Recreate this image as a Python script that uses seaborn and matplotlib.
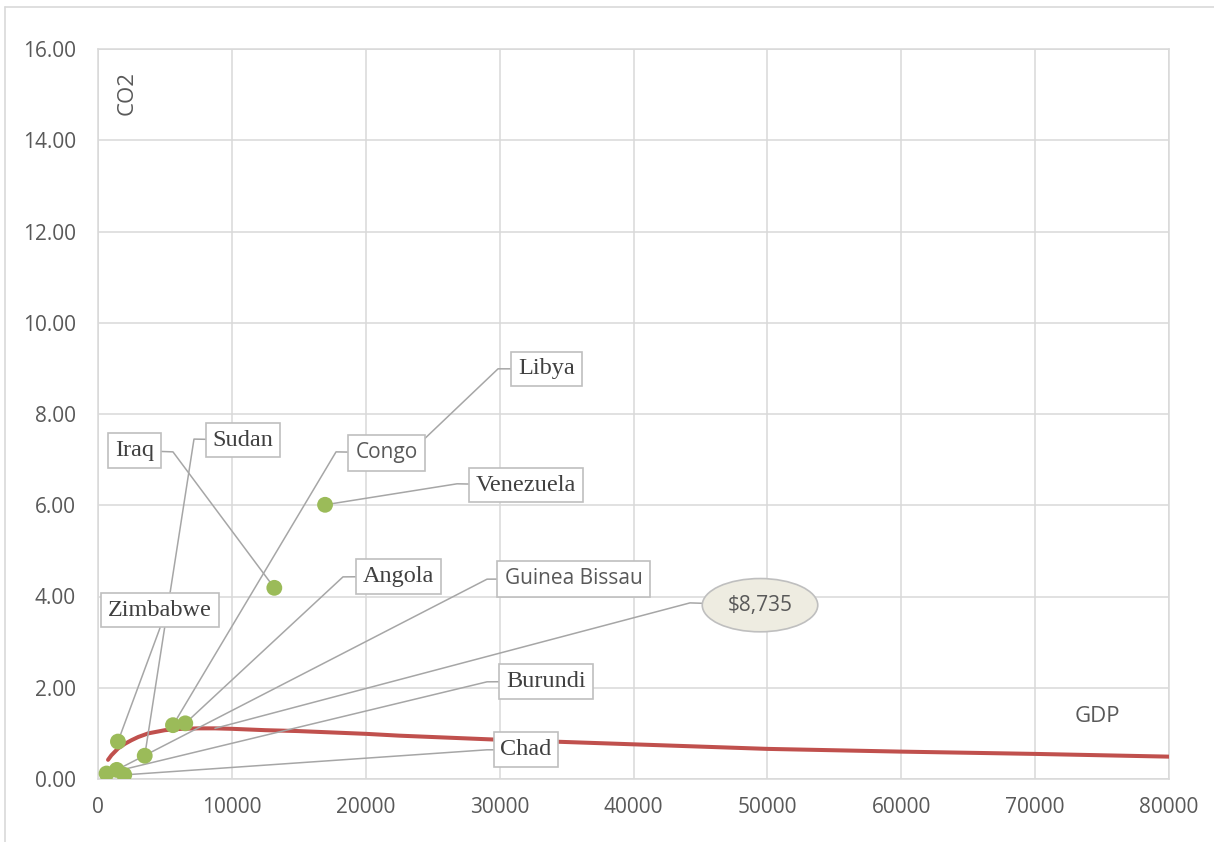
import matplotlib
matplotlib.use("Agg")
import matplotlib.pyplot as plt
from matplotlib.lines import Line2D
import seaborn as sns
import pandas as pd

# ---------------- data ----------------
countries = ["Iraq", "Venezuela", "Libya", "Congo", "Angola",
             "Zimbabwe", "Sudan", "Burundi", "Guinea Bissau", "Chad"]
gdp = [13170, 16960, 22900, 5600, 6520, 1490, 3490, 640, 1400, 1960]
co2 = [4.19, 6.01, 7.04, 1.18, 1.22, 0.82, 0.51, 0.12, 0.20, 0.09]

curve_gdp = [750, 1000, 1500, 2000, 2500, 3000, 3750, 5000, 6250, 7500, 8735,
             10000, 12500, 15000, 17500, 20000, 22500, 30000, 40000, 50000,
             60000, 70000, 80000]
curve_co2 = [0.42, 0.52, 0.67, 0.77, 0.85, 0.92, 1.00, 1.07, 1.10, 1.11, 1.11,
             1.10, 1.07, 1.05, 1.02, 0.99, 0.95, 0.86, 0.76, 0.66,
             0.60, 0.55, 0.49]

turning_gdp = 8735
turning_co2 = 1.11
turning_label = "$8,735"

x_ticks = [0, 10000, 20000, 30000, 40000, 50000, 60000, 70000, 80000]
y_ticks = [0, 2, 4, 6, 8, 10, 12, 14, 16]
x_title = "GDP"
y_title = "CO2"

# ---------------- layout (label positions, not data) ----------------
# name: (text x, text y, elbow x, elbow y, style)
label_layout = {
    "Iraq":          (2730, 7.20, 5600, 7.17, "serif"),
    "Sudan":         (10830, 7.43, 7170, 7.45, "serif"),
    "Congo":         (21550, 7.15, 17780, 7.17, "sans"),
    "Libya":         (33500, 8.99, 29880, 8.99, "serif"),
    "Venezuela":     (32000, 6.44, 26820, 6.47, "serif"),
    "Angola":        (22410, 4.44, 18300, 4.43, "serif"),
    "Guinea Bissau": (35520, 4.39, 29060, 4.38, "sans"),
    "Burundi":       (33460, 2.14, 29060, 2.13, "serif"),
    "Chad":          (31970, 0.64, 29060, 0.64, "serif"),
    "Zimbabwe":      (4630, 3.70, 4630, 3.31, "serif"),
}
turning_layout = (49450, 3.81, 44220, 3.86)

SANS = ["Open Sans", "DejaVu Sans"]
SERIF = ["Liberation Serif", "DejaVu Serif"]
GRID = "#D9D9D9"
TXT = "#595959"
LEADER = "#A6A6A6"

sns.set_theme(style="whitegrid")
plt.rcParams["font.family"] = SANS

fig = plt.figure(figsize=(12.14, 8.42), dpi=100)
ax = fig.add_axes([98 / 1214, 1 - 779 / 842, (1169 - 98) / 1214, (779 - 49) / 842])
ax.set_facecolor("white")

pts = pd.DataFrame({"country": countries, "gdp": gdp, "co2": co2})
curve = pd.DataFrame({"gdp": curve_gdp, "co2": curve_co2})

sns.lineplot(data=curve, x="gdp", y="co2", ax=ax, color="#C0504D",
             linewidth=2.9, zorder=3, sort=True)
sns.scatterplot(data=pts, x="gdp", y="co2", ax=ax, color="#9BBB59",
                s=130, edgecolor="none", linewidth=0, zorder=5)

# leader lines and labels
for name, xv, yv in zip(countries, gdp, co2):
    tx, ty, ex, ey, style = label_layout[name]
    ax.plot([xv, ex, tx], [yv, ey, ty], color=LEADER, lw=1.1,
            zorder=4, solid_capstyle="butt")
    if style == "serif":
        ax.text(tx, ty, name, family=SERIF, fontsize=17.5, color="#404040",
                ha="center", va="center", zorder=7,
                bbox=dict(boxstyle="square,pad=0.28", fc="white",
                          ec="#BFBFBF", lw=1.2))
    else:
        ax.text(tx, ty, name, family=SANS, fontsize=15, color=TXT,
                ha="center", va="center", zorder=7,
                bbox=dict(boxstyle="square,pad=0.36", fc="white",
                          ec="#BFBFBF", lw=1.2))

tx, ty, ex, ey = turning_layout
ax.plot([turning_gdp, ex, tx], [turning_co2, ey, ty], color=LEADER, lw=1.1,
        zorder=4)
ax.text(tx, ty, turning_label, family=SANS, fontsize=15, color=TXT,
        ha="center", va="center", zorder=7,
        bbox=dict(boxstyle="ellipse,pad=0.4", fc="#EEECE1", ec="#BFBFBF", lw=1.2))

# axes styling
ax.set_xlim(x_ticks[0], x_ticks[-1])
ax.set_ylim(y_ticks[0], y_ticks[-1])
ax.set_xticks(x_ticks)
ax.set_yticks(y_ticks)
ax.set_xticklabels([f"{v:d}" for v in x_ticks])
ax.set_yticklabels([f"{v:.2f}" for v in y_ticks])
ax.tick_params(axis="both", length=0, labelsize=15, labelcolor=TXT)
ax.tick_params(axis="y", pad=16)
ax.tick_params(axis="x", pad=13)
ax.grid(True, color=GRID, lw=1.1, zorder=0)
ax.set_axisbelow(True)
for sp in ax.spines.values():
    sp.set_color(GRID)
    sp.set_linewidth(1.1)
ax.set_xlabel("")
ax.set_ylabel("")

ax.text(0.027, 0.940, y_title, transform=ax.transAxes, rotation=90,
        ha="center", va="center", fontsize=16, color=TXT, family=SANS)
ax.text(0.933, 0.0863, x_title, transform=ax.transAxes,
        ha="center", va="center", fontsize=16, color=TXT, family=SANS)

# outer chart border (visible top and left edges)
fig.add_artist(Line2D([5 / 1214, 1.0], [1 - 7 / 842, 1 - 7 / 842],
                      transform=fig.transFigure, color=GRID, lw=1.2))
fig.add_artist(Line2D([5 / 1214, 5 / 1214], [0.0, 1 - 7 / 842],
                      transform=fig.transFigure, color=GRID, lw=1.2))

fig.savefig("out.png", dpi=100, facecolor="white")
